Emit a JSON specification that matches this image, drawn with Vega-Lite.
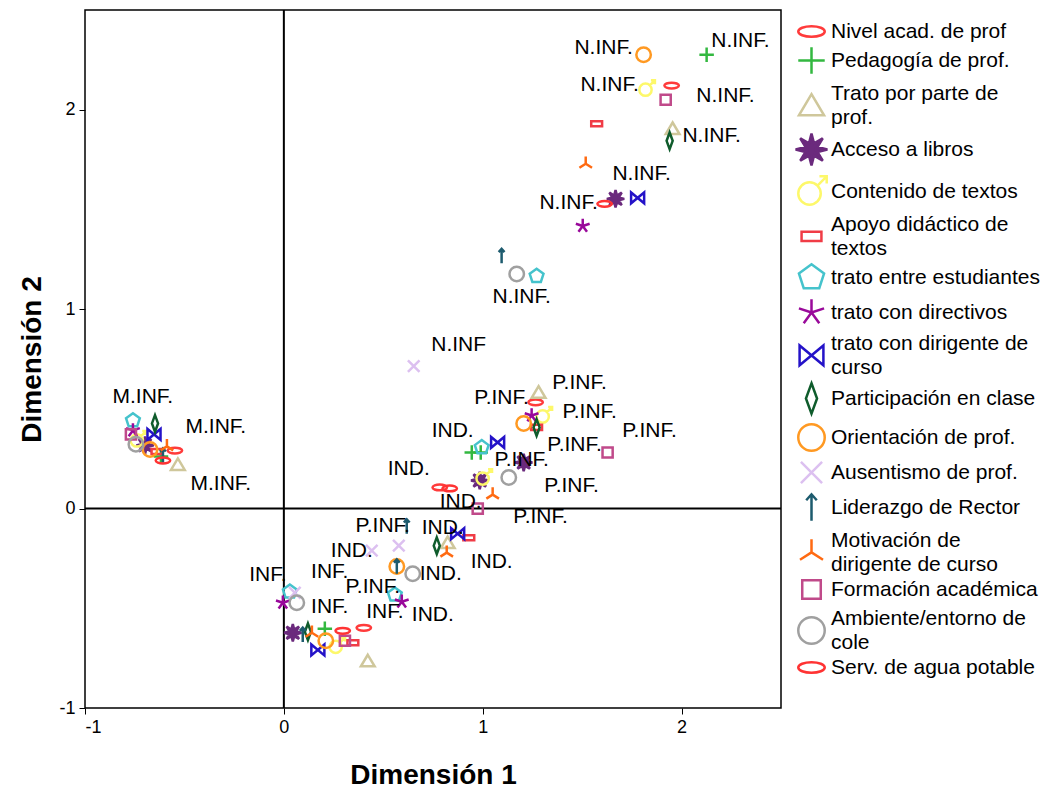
{
  "$schema": "https://vega.github.io/schema/vega-lite/v6.json",
  "width": 696,
  "height": 698,
  "autosize": {"type": "none"},
  "padding": {"left": 85, "top": 10, "right": 266, "bottom": 85},
  "background": "white",
  "config": {
    "font": "Liberation Sans",
    "view": {"stroke": "black", "strokeWidth": 1.5},
    "style": {"guide-label": {"lineHeight": 24}},
    "axis": {"grid": false, "domain": false, "tickColor": "black", "tickSize": 6, "tickWidth": 1, "labelColor": "black", "labelFontSize": 18, "labelFont": "Liberation Sans", "titleFont": "Liberation Sans", "titleFontSize": 28, "titleFontWeight": "bold", "titleColor": "black", "labelPadding": 4},
    "legend": {"labelFont": "Liberation Sans", "labelFontSize": 21, "labelColor": "black", "labelLimit": 400, "symbolSize": 700, "symbolStrokeWidth": 2.5, "rowPadding": 0, "labelOffset": 5, "padding": 7, "offset": 9}
  },
  "datasets": {
    "zero": [{"v": 0}],
    "pts": [
      {"cat": "Nivel acad. de prof", "x": 1.950, "y": 2.121},
      {"cat": "Nivel acad. de prof", "x": 1.266, "y": 0.533},
      {"cat": "Nivel acad. de prof", "x": 0.784, "y": 0.106},
      {"cat": "Nivel acad. de prof", "x": 0.402, "y": -0.598},
      {"cat": "Nivel acad. de prof", "x": -0.548, "y": 0.291},
      {"cat": "Pedagogía de prof.", "x": 2.126, "y": 2.276},
      {"cat": "Pedagogía de prof.", "x": 0.990, "y": 0.281},
      {"cat": "Pedagogía de prof.", "x": 0.945, "y": 0.281},
      {"cat": "Pedagogía de prof.", "x": 0.206, "y": -0.603},
      {"cat": "Pedagogía de prof.", "x": -0.618, "y": 0.261},
      {"cat": "Trato por parte de prof.", "x": 1.955, "y": 1.905},
      {"cat": "Trato por parte de prof.", "x": 1.281, "y": 0.583},
      {"cat": "Trato por parte de prof.", "x": 0.824, "y": -0.171},
      {"cat": "Trato por parte de prof.", "x": 0.422, "y": -0.764},
      {"cat": "Trato por parte de prof.", "x": -0.533, "y": 0.221},
      {"cat": "Acceso a libros", "x": 1.668, "y": 1.553},
      {"cat": "Acceso a libros", "x": 1.206, "y": 0.231},
      {"cat": "Acceso a libros", "x": 0.985, "y": 0.141},
      {"cat": "Acceso a libros", "x": 0.045, "y": -0.623},
      {"cat": "Acceso a libros", "x": -0.698, "y": 0.317},
      {"cat": "Contenido de  textos", "x": 1.824, "y": 2.106},
      {"cat": "Contenido de  textos", "x": 1.307, "y": 0.467},
      {"cat": "Contenido de  textos", "x": 1.005, "y": 0.156},
      {"cat": "Contenido de  textos", "x": 0.266, "y": -0.688},
      {"cat": "Contenido de  textos", "x": -0.734, "y": 0.347},
      {"cat": "Apoyo didáctico de textos", "x": 1.573, "y": 1.930},
      {"cat": "Apoyo didáctico de textos", "x": 1.271, "y": 0.407},
      {"cat": "Apoyo didáctico de textos", "x": 0.930, "y": -0.146},
      {"cat": "Apoyo didáctico de textos", "x": 0.347, "y": -0.673},
      {"cat": "Apoyo didáctico de textos", "x": -0.638, "y": 0.286},
      {"cat": "trato entre estudiantes", "x": 1.271, "y": 1.166},
      {"cat": "trato entre estudiantes", "x": 0.995, "y": 0.307},
      {"cat": "trato entre estudiantes", "x": 0.558, "y": -0.432},
      {"cat": "trato entre estudiantes", "x": 0.030, "y": -0.417},
      {"cat": "trato entre estudiantes", "x": -0.759, "y": 0.442},
      {"cat": "trato con directivos", "x": 1.503, "y": 1.417},
      {"cat": "trato con directivos", "x": 1.246, "y": 0.467},
      {"cat": "trato con directivos", "x": 0.593, "y": -0.467},
      {"cat": "trato con directivos", "x": -0.005, "y": -0.472},
      {"cat": "trato con directivos", "x": -0.759, "y": 0.392},
      {"cat": "trato con dirigente de curso", "x": 1.779, "y": 1.558},
      {"cat": "trato con dirigente de curso", "x": 1.075, "y": 0.332},
      {"cat": "trato con dirigente de curso", "x": 0.874, "y": -0.126},
      {"cat": "trato con dirigente de curso", "x": 0.171, "y": -0.709},
      {"cat": "trato con dirigente de curso", "x": -0.653, "y": 0.372},
      {"cat": "Participación en clase", "x": 1.940, "y": 1.844},
      {"cat": "Participación en clase", "x": 1.271, "y": 0.407},
      {"cat": "Participación en clase", "x": 0.769, "y": -0.186},
      {"cat": "Participación en clase", "x": 0.121, "y": -0.618},
      {"cat": "Participación en clase", "x": -0.648, "y": 0.427},
      {"cat": "Orientación de prof.", "x": 1.809, "y": 2.276},
      {"cat": "Orientación de prof.", "x": 1.206, "y": 0.427},
      {"cat": "Orientación de prof.", "x": 0.568, "y": -0.291},
      {"cat": "Orientación de prof.", "x": 0.211, "y": -0.663},
      {"cat": "Orientación de prof.", "x": -0.673, "y": 0.296},
      {"cat": "Ausentismo de prof.", "x": 0.653, "y": 0.714},
      {"cat": "Ausentismo de prof.", "x": 0.578, "y": -0.186},
      {"cat": "Ausentismo de prof.", "x": 0.442, "y": -0.211},
      {"cat": "Ausentismo de prof.", "x": 0.055, "y": -0.422},
      {"cat": "Liderazgo de Rector", "x": 1.095, "y": 1.266},
      {"cat": "Liderazgo de Rector", "x": 0.618, "y": -0.090},
      {"cat": "Liderazgo de Rector", "x": 0.568, "y": -0.291},
      {"cat": "Liderazgo de Rector", "x": 0.095, "y": -0.633},
      {"cat": "Liderazgo de Rector", "x": -0.608, "y": 0.266},
      {"cat": "Motivación de dirigente de curso", "x": 1.518, "y": 1.729},
      {"cat": "Motivación de dirigente de curso", "x": 1.050, "y": 0.070},
      {"cat": "Motivación de dirigente de curso", "x": 0.819, "y": -0.221},
      {"cat": "Motivación de dirigente de curso", "x": 0.141, "y": -0.623},
      {"cat": "Motivación de dirigente de curso", "x": -0.588, "y": 0.312},
      {"cat": "Formación académica", "x": 1.920, "y": 2.050},
      {"cat": "Formación académica", "x": 1.628, "y": 0.281},
      {"cat": "Formación académica", "x": 0.975, "y": 0.000},
      {"cat": "Formación académica", "x": 0.307, "y": -0.663},
      {"cat": "Formación académica", "x": -0.769, "y": 0.372},
      {"cat": "Ambiente/entorno de cole", "x": 1.171, "y": 1.176},
      {"cat": "Ambiente/entorno de cole", "x": 1.131, "y": 0.156},
      {"cat": "Ambiente/entorno de cole", "x": 0.648, "y": -0.327},
      {"cat": "Ambiente/entorno de cole", "x": 0.065, "y": -0.472},
      {"cat": "Ambiente/entorno de cole", "x": -0.744, "y": 0.322},
      {"cat": "Serv. de agua potable", "x": 1.613, "y": 1.528},
      {"cat": "Serv. de agua potable", "x": 0.834, "y": 0.101},
      {"cat": "Serv. de agua potable", "x": 0.296, "y": -0.613},
      {"cat": "Serv. de agua potable", "x": -0.608, "y": 0.241}
    ],
    "lbl": [
      {"t": "M.INF.", "x": -0.709, "y": 0.558},
      {"t": "M.INF.", "x": -0.342, "y": 0.407},
      {"t": "M.INF.", "x": -0.317, "y": 0.121},
      {"t": "N.INF.", "x": 1.608, "y": 2.307},
      {"t": "N.INF.", "x": 2.296, "y": 2.347},
      {"t": "N.INF.", "x": 1.638, "y": 2.126},
      {"t": "N.INF.", "x": 2.221, "y": 2.070},
      {"t": "N.INF.", "x": 2.151, "y": 1.869},
      {"t": "N.INF.", "x": 1.799, "y": 1.678},
      {"t": "N.INF.", "x": 1.432, "y": 1.533},
      {"t": "N.INF.", "x": 1.196, "y": 1.060},
      {"t": "N.INF", "x": 0.879, "y": 0.819},
      {"t": "P.INF.", "x": 1.487, "y": 0.628},
      {"t": "P.INF.", "x": 1.095, "y": 0.553},
      {"t": "P.INF.", "x": 1.538, "y": 0.482},
      {"t": "P.INF.", "x": 1.839, "y": 0.387},
      {"t": "P.INF.", "x": 1.462, "y": 0.317},
      {"t": "P.INF.", "x": 1.196, "y": 0.246},
      {"t": "P.INF.", "x": 1.447, "y": 0.111},
      {"t": "P.INF.", "x": 1.291, "y": -0.040},
      {"t": "P.INF.", "x": 0.497, "y": -0.085},
      {"t": "P.INF.", "x": 0.447, "y": -0.392},
      {"t": "IND.", "x": 0.849, "y": 0.387},
      {"t": "IND.", "x": 0.628, "y": 0.196},
      {"t": "IND.", "x": 0.889, "y": 0.035},
      {"t": "IND.", "x": 0.799, "y": -0.095},
      {"t": "IND.", "x": 0.342, "y": -0.211},
      {"t": "IND.", "x": 1.045, "y": -0.266},
      {"t": "IND.", "x": 0.789, "y": -0.327},
      {"t": "IND.", "x": 0.749, "y": -0.533},
      {"t": "INF.", "x": -0.080, "y": -0.332},
      {"t": "INF.", "x": 0.231, "y": -0.317},
      {"t": "INF.", "x": 0.231, "y": -0.492},
      {"t": "INF.", "x": 0.508, "y": -0.518}
    ]
  },
  "resolve": {"scale": {"shape": "independent", "stroke": "independent", "fill": "independent"}},
  "layer": [
    {
      "data": {"name": "zero"},
      "mark": {"type": "rule", "color": "black", "strokeWidth": 2},
      "encoding": {"x": {"field": "v", "type": "quantitative", "scale": {"domain": [-1, 2.5], "nice": false, "zero": false}, "axis": {"title": "Dimensión 1", "values": [-1, 0, 1, 2], "labelExpr": "'' + datum.value", "titlePadding": 25}}}
    },
    {
      "data": {"name": "zero"},
      "mark": {"type": "rule", "color": "black", "strokeWidth": 2},
      "encoding": {"y": {"field": "v", "type": "quantitative", "scale": {"domain": [-1, 2.5], "nice": false, "zero": false}, "axis": {"title": "Dimensión 2", "values": [-1, 0, 1, 2], "labelExpr": "'' + datum.value", "titlePadding": 12}}}
    },
    {
      "data": {"name": "pts"},
      "mark": {"type": "point", "size": 210, "strokeWidth": 2.5, "opacity": 1},
      "encoding": {
        "x": {"field": "x", "type": "quantitative"},
        "y": {"field": "y", "type": "quantitative"},
        "shape": {
          "field": "cat", "type": "nominal", "legend": null,
          "scale": {
            "domain": ["Nivel acad. de prof", "Pedagogía de prof.", "Trato por parte de prof.", "Acceso a libros", "Contenido de  textos", "Apoyo didáctico de textos", "trato entre estudiantes", "trato con directivos", "trato con dirigente de curso", "Participación en clase", "Orientación de prof.", "Ausentismo de prof.", "Liderazgo de Rector", "Motivación de dirigente de curso", "Formación académica", "Ambiente/entorno de cole", "Serv. de agua potable"],
            "range": [
              "M-1,0A1,0.4 0 1,1 1,0A1,0.4 0 1,1 -1,0Z",
              "M-1,0L1,0M0,-1L0,1",
              "M0,-0.85L0.95,0.75L-0.95,0.75Z",
              "M0,-1.2L0.19,-0.46L0.85,-0.85L0.46,-0.19L1.2,0L0.46,0.19L0.85,0.85L0.19,0.46L0,1.2L-0.19,0.46L-0.85,0.85L-0.46,0.19L-1.2,0L-0.46,-0.19L-0.85,-0.85L-0.19,-0.46ZM-0.1,-0.1L-0.1,0.1L0.1,0.1L0.1,-0.1Z",
              "M-1,0.15A0.85,0.85 0 1,1 0.7,0.15A0.85,0.85 0 1,1 -1,0.15ZM0.45,-0.45L1.15,-1.15M0.6,-1.15L1.15,-1.15L1.15,-0.6",
              "M-0.75,-0.35L0.75,-0.35L0.75,0.35L-0.75,0.35Z",
              "M0,-1L0.951,-0.309L0.588,0.809L-0.588,0.809L-0.951,-0.309Z",
              "M0,0L0,-1M0,0L0.951,-0.309M0,0L0.588,0.809M0,0L-0.588,0.809M0,0L-0.951,-0.309",
              "M-0.9,-0.75L-0.9,0.75L0.9,-0.75L0.9,0.75Z",
              "M0,-1.15L0.42,0L0,1.15L-0.42,0Z",
              "circle",
              "M-0.8,-0.8L0.8,0.8M-0.8,0.8L0.8,-0.8",
              "M0,1L0,-1M-0.4,-0.55L0,-1L0.4,-0.55",
              "M0,0L0,-1M0,0L-0.87,0.55M0,0L0.87,0.55",
              "M-0.7,-0.7L0.7,-0.7L0.7,0.7L-0.7,0.7Z",
              "circle",
              "M-1,0A1,0.4 0 1,1 1,0A1,0.4 0 1,1 -1,0Z"
            ]
          }
        },
        "stroke": {
          "field": "cat", "type": "nominal", "legend": null,
          "scale": {
            "domain": ["Nivel acad. de prof", "Pedagogía de prof.", "Trato por parte de prof.", "Acceso a libros", "Contenido de  textos", "Apoyo didáctico de textos", "trato entre estudiantes", "trato con directivos", "trato con dirigente de curso", "Participación en clase", "Orientación de prof.", "Ausentismo de prof.", "Liderazgo de Rector", "Motivación de dirigente de curso", "Formación académica", "Ambiente/entorno de cole", "Serv. de agua potable"],
            "range": ["#ff3b3b", "#33b840", "#cfc79b", "#6b2a7d", "#fdf86a", "#f03c46", "#45c3cc", "#99099a", "#2412c8", "#0f5c2c", "#ff9922", "#dcc0f0", "#1d5b6e", "#ff6a12", "#c04a8a", "#a0a0a0", "#ff3333"]
          }
        },
        "fill": {
          "field": "cat", "type": "nominal", "legend": null,
          "scale": {
            "domain": ["Nivel acad. de prof", "Pedagogía de prof.", "Trato por parte de prof.", "Acceso a libros", "Contenido de  textos", "Apoyo didáctico de textos", "trato entre estudiantes", "trato con directivos", "trato con dirigente de curso", "Participación en clase", "Orientación de prof.", "Ausentismo de prof.", "Liderazgo de Rector", "Motivación de dirigente de curso", "Formación académica", "Ambiente/entorno de cole", "Serv. de agua potable"],
            "range": ["transparent", "transparent", "transparent", "#6b2a7d", "transparent", "transparent", "transparent", "transparent", "transparent", "transparent", "transparent", "transparent", "transparent", "transparent", "transparent", "transparent", "transparent"]
          }
        }
      }
    },
    {
      "data": {"name": "pts"},
      "transform": [{"filter": "datum.x > 100"}],
      "mark": {"type": "point", "size": 210, "strokeWidth": 2.5, "opacity": 1},
      "encoding": {
        "x": {"field": "x", "type": "quantitative"},
        "y": {"field": "y", "type": "quantitative"},
        "shape": {
          "field": "cat", "type": "nominal",
          "scale": {
            "domain": ["Nivel acad. de prof", "Pedagogía de prof.", "Trato por parte de prof.", "Acceso a libros", "Contenido de  textos", "Apoyo didáctico de textos", "trato entre estudiantes", "trato con directivos", "trato con dirigente de curso", "Participación en clase", "Orientación de prof.", "Ausentismo de prof.", "Liderazgo de Rector", "Motivación de dirigente de curso", "Formación académica", "Ambiente/entorno de cole", "Serv. de agua potable"],
            "range": [
              "M-1,0A1,0.4 0 1,1 1,0A1,0.4 0 1,1 -1,0Z",
              "M-1,0L1,0M0,-1L0,1",
              "M0,0.05L0.95,1.65L-0.95,1.65Z",
              "M0,-1.2L0.19,-0.46L0.85,-0.85L0.46,-0.19L1.2,0L0.46,0.19L0.85,0.85L0.19,0.46L0,1.2L-0.19,0.46L-0.85,0.85L-0.46,0.19L-1.2,0L-0.46,-0.19L-0.85,-0.85L-0.19,-0.46ZM-0.1,-0.1L-0.1,0.1L0.1,0.1L0.1,-0.1Z",
              "M-1,0.15A0.85,0.85 0 1,1 0.7,0.15A0.85,0.85 0 1,1 -1,0.15ZM0.45,-0.45L1.15,-1.15M0.6,-1.15L1.15,-1.15L1.15,-0.6",
              "M-0.75,0.55L0.75,0.55L0.75,1.25L-0.75,1.25Z",
              "M0,-1L0.951,-0.309L0.588,0.809L-0.588,0.809L-0.951,-0.309Z",
              "M0,0L0,-1M0,0L0.951,-0.309M0,0L0.588,0.809M0,0L-0.588,0.809M0,0L-0.951,-0.309",
              "M-0.9,0.15L-0.9,1.65L0.9,0.15L0.9,1.65Z",
              "M0,-1.15L0.42,0L0,1.15L-0.42,0Z",
              "circle",
              "M-0.8,-0.8L0.8,0.8M-0.8,0.8L0.8,-0.8",
              "M0,1L0,-1M-0.4,-0.55L0,-1L0.4,-0.55",
              "M0,0.9L0,-0.1M0,0.9L-0.87,1.45M0,0.9L0.87,1.45",
              "M-0.7,-0.7L0.7,-0.7L0.7,0.7L-0.7,0.7Z",
              "M-1,0.9A1,1 0 1,1 1,0.9A1,1 0 1,1 -1,0.9Z",
              "M-1,0A1,0.4 0 1,1 1,0A1,0.4 0 1,1 -1,0Z"
            ]
          },
          "legend": {"title": null, "orient": "right", "labelExpr": "datum.label == 'Trato por parte de prof.' ? ['Trato por parte de', 'prof.'] : datum.label == 'Apoyo didáctico de textos' ? ['Apoyo didáctico de', 'textos'] : datum.label == 'trato con dirigente de curso' ? ['trato con dirigente de', 'curso'] : datum.label == 'Motivación de dirigente de curso' ? ['Motivación de', 'dirigente de curso'] : datum.label == 'Ambiente/entorno de cole' ? ['Ambiente/entorno de', 'cole'] : datum.label"}
        },
        "stroke": {
          "field": "cat", "type": "nominal",
          "scale": {
            "domain": ["Nivel acad. de prof", "Pedagogía de prof.", "Trato por parte de prof.", "Acceso a libros", "Contenido de  textos", "Apoyo didáctico de textos", "trato entre estudiantes", "trato con directivos", "trato con dirigente de curso", "Participación en clase", "Orientación de prof.", "Ausentismo de prof.", "Liderazgo de Rector", "Motivación de dirigente de curso", "Formación académica", "Ambiente/entorno de cole", "Serv. de agua potable"],
            "range": ["#ff3b3b", "#33b840", "#cfc79b", "#6b2a7d", "#fdf86a", "#f03c46", "#45c3cc", "#99099a", "#2412c8", "#0f5c2c", "#ff9922", "#dcc0f0", "#1d5b6e", "#ff6a12", "#c04a8a", "#a0a0a0", "#ff3333"]
          },
          "legend": {"title": null, "orient": "right", "labelExpr": "datum.label == 'Trato por parte de prof.' ? ['Trato por parte de', 'prof.'] : datum.label == 'Apoyo didáctico de textos' ? ['Apoyo didáctico de', 'textos'] : datum.label == 'trato con dirigente de curso' ? ['trato con dirigente de', 'curso'] : datum.label == 'Motivación de dirigente de curso' ? ['Motivación de', 'dirigente de curso'] : datum.label == 'Ambiente/entorno de cole' ? ['Ambiente/entorno de', 'cole'] : datum.label"}
        },
        "fill": {
          "field": "cat", "type": "nominal",
          "scale": {
            "domain": ["Nivel acad. de prof", "Pedagogía de prof.", "Trato por parte de prof.", "Acceso a libros", "Contenido de  textos", "Apoyo didáctico de textos", "trato entre estudiantes", "trato con directivos", "trato con dirigente de curso", "Participación en clase", "Orientación de prof.", "Ausentismo de prof.", "Liderazgo de Rector", "Motivación de dirigente de curso", "Formación académica", "Ambiente/entorno de cole", "Serv. de agua potable"],
            "range": ["transparent", "transparent", "transparent", "#6b2a7d", "transparent", "transparent", "transparent", "transparent", "transparent", "transparent", "transparent", "transparent", "transparent", "transparent", "transparent", "transparent", "transparent"]
          },
          "legend": {"title": null, "orient": "right", "labelExpr": "datum.label == 'Trato por parte de prof.' ? ['Trato por parte de', 'prof.'] : datum.label == 'Apoyo didáctico de textos' ? ['Apoyo didáctico de', 'textos'] : datum.label == 'trato con dirigente de curso' ? ['trato con dirigente de', 'curso'] : datum.label == 'Motivación de dirigente de curso' ? ['Motivación de', 'dirigente de curso'] : datum.label == 'Ambiente/entorno de cole' ? ['Ambiente/entorno de', 'cole'] : datum.label"}
        }
      }
    },
    {
      "data": {"name": "lbl"},
      "mark": {"type": "text", "fontSize": 21, "font": "Liberation Sans", "color": "black", "align": "center", "baseline": "middle"},
      "encoding": {
        "x": {"field": "x", "type": "quantitative"},
        "y": {"field": "y", "type": "quantitative"},
        "text": {"field": "t", "type": "nominal"}
      }
    }
  ]
}
